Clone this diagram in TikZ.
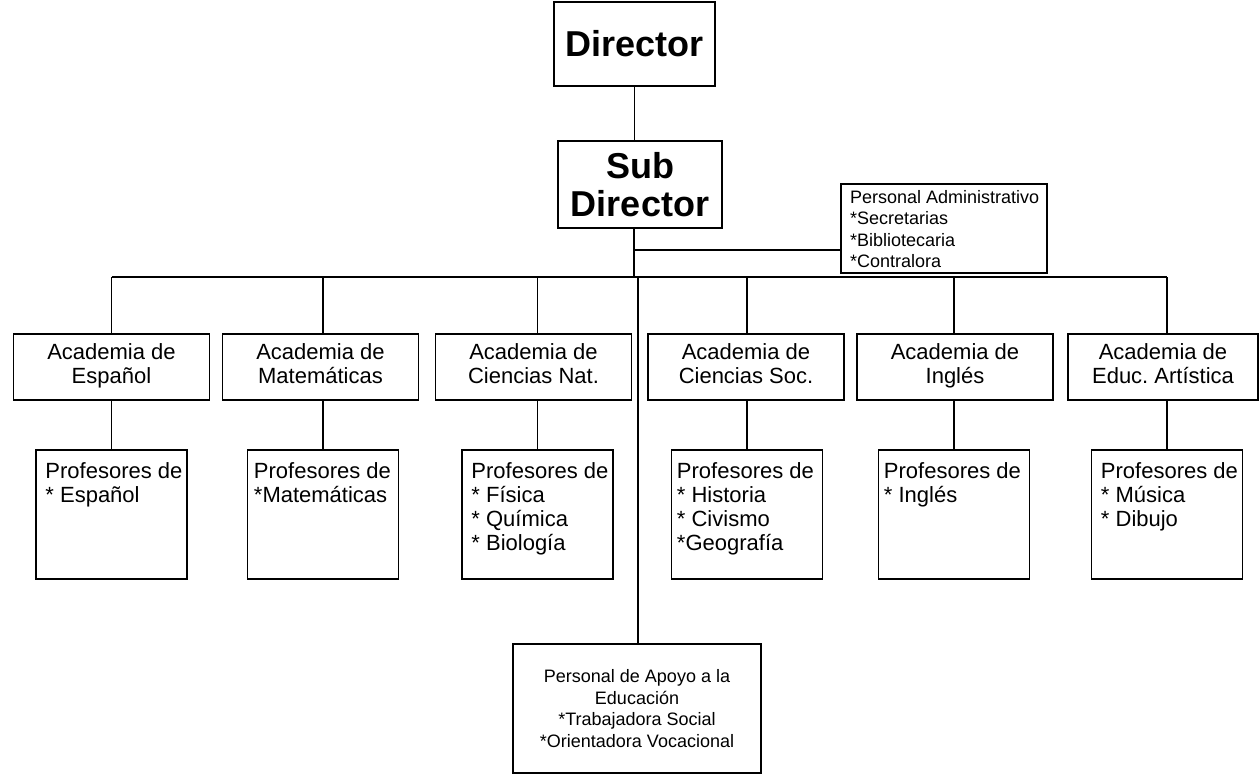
\documentclass[tikz,border=0pt]{standalone}
\usepackage{fontspec}
\setmainfont{Liberation Sans}
\frenchspacing
\begin{document}
\begin{tikzpicture}[x=1pt,y=1pt,
  box/.style={draw, line width=1.5pt, inner sep=0pt},
  bigtext/.style={font=\bfseries\fontsize{36}{38}\selectfont},
  acad/.style={box, minimum width=196pt, minimum height=66pt, align=center, font=\fontsize{22}{24}\selectfont},
  prof/.style={box, minimum width=151pt, minimum height=129pt},
  proftext/.style={anchor=north west, inner sep=0pt, align=left, font=\fontsize{22}{24}\selectfont},
  smalltext/.style={font=\fontsize{18}{21.5}\selectfont},
  conn/.style={line width=1.5pt}]
\useasboundingbox (0,0) rectangle (1260,-782);

% top
\node[box, bigtext, minimum width=161pt, minimum height=84pt] (dir) at (634.5,-44) {Director};
\node[box, bigtext, minimum width=164pt, minimum height=87pt, align=center] (sub) at (640,-184.5) {Sub\\Director};
\node[box, minimum width=206pt, minimum height=89pt] (pa) at (944,-228.5) {};
\node[smalltext, anchor=north west, inner sep=0pt, align=left] (patext) at (850,-190)
  {Personal Administrativo\\*Secretarias\\*Bibliotecaria\\*Contralora};

% academias
\node[acad] (a1) at (111.5,-367) {\strut Academia de\\Español\strut};
\node[acad] (a2) at (320.5,-367) {\strut Academia de\\Matemáticas\strut};
\node[acad] (a3) at (533.5,-367) {\strut Academia de\\Ciencias Nat.\strut};
\node[acad] (a4) at (746,-367) {\strut Academia de\\Ciencias Soc.\strut};
\node[acad] (a5) at (955,-367) {\strut Academia de\\Inglés\strut};
\node[acad, minimum width=190pt] (a6) at (1163,-367) {\strut Academia de\\Educ. Artística\strut};

% profesores
\node[prof] (p1) at (111.5,-514.5) {};
\node[prof] (p2) at (323,-514.5) {};
\node[prof] (p3) at (537.5,-514.5) {};
\node[prof] (p4) at (747,-514.5) {};
\node[prof] (p5) at (954,-514.5) {};
\node[prof] (p6) at (1167,-514.5) {};
\node[proftext] (t1) at ([shift={(10,-13)}]p1.north west) {Profesores de\\* Español};
\node[proftext] (t2) at ([shift={(7,-13)}]p2.north west) {Profesores de\\*Matemáticas};
\node[proftext] (t3) at ([shift={(10,-13)}]p3.north west) {Profesores de\\* Física\\* Química\\* Biología};
\node[proftext] (t4) at ([shift={(6,-13)}]p4.north west) {Profesores de\\* Historia\\* Civismo\\*Geografía};
\node[proftext] (t5) at ([shift={(6,-13)}]p5.north west) {Profesores de\\* Inglés};
\node[proftext] (t6) at ([shift={(10,-13)}]p6.north west) {Profesores de\\* Música\\* Dibujo};

% apoyo
\node[box, smalltext, minimum width=248pt, minimum height=129pt, align=center] (ap) at (637,-708.5)
  {Personal de Apoyo a la\\Educación\\*Trabajadora Social\\*Orientadora Vocacional};

% connectors
\coordinate (busL) at (111.5,-277);
\coordinate (pj) at (634,-250);
\draw[conn] (dir.south) -- (dir.south |- sub.north);
\draw[conn] (pj |- sub.south) -- (pj |- busL);
\draw[conn] (pj) -- (pj -| pa.west);
\draw[conn] (p1.north |- busL) -- (p6.north |- busL);
\foreach \i in {1,...,6}{
  \draw[conn] (p\i.north |- busL) -- (p\i.north |- a\i.north);
  \draw[conn] (p\i.north |- a\i.south) -- (p\i.north);
}
\draw[conn] ([xshift=1pt]ap.north |- busL) -- ([xshift=1pt]ap.north);
\end{tikzpicture}
\end{document}
